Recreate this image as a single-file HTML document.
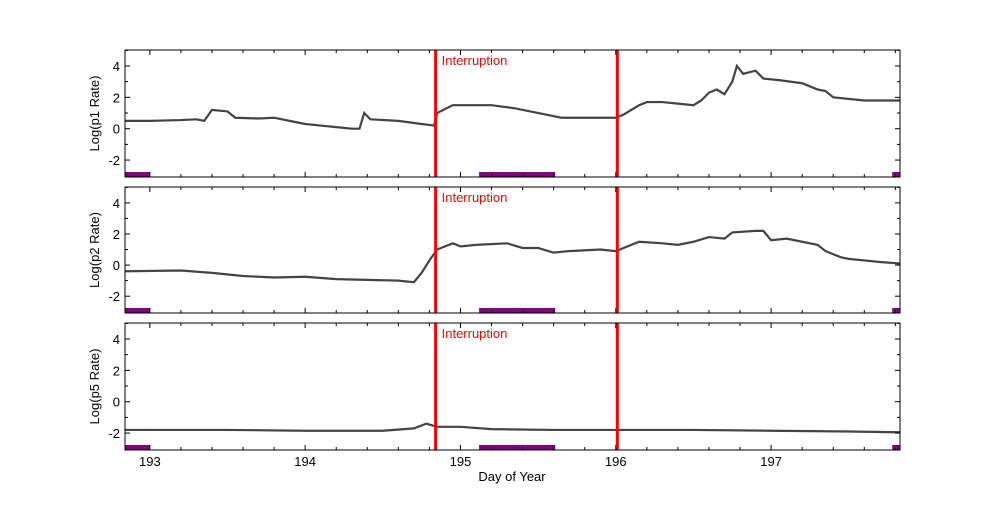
<!DOCTYPE html>
<html><head><meta charset="utf-8"><style>
body{margin:0;background:#fff;font-family:"Liberation Sans",sans-serif}
svg text{font-family:"Liberation Sans",sans-serif}
</style></head><body>
<svg id="chart" width="1000" height="500"></svg>
<script>
const xTicks=[193,194,195,196,197];
const yTicks=[-2,0,2,4];
const interruptions=[194.84,196.01];
const gaps=[[192.84,193.0],[195.12,195.61],[197.78,197.83]];
const panelLabels=["Log(p1 Rate)","Log(p2 Rate)","Log(p5 Rate)"];
const p1Days=[192.84,193.0,193.2,193.3,193.35,193.4,193.5,193.55,193.7,193.8,193.9,194.0,194.1,194.2,194.3,194.35,194.38,194.42,194.6,194.75,194.83,194.85,194.95,195.1,195.2,195.35,195.45,195.55,195.65,195.8,195.9,196.0,196.05,196.15,196.2,196.3,196.4,196.5,196.55,196.6,196.65,196.7,196.75,196.78,196.82,196.9,196.95,197.05,197.2,197.3,197.35,197.4,197.6,197.83];
const p1Vals=[0.5,0.5,0.55,0.6,0.5,1.2,1.1,0.7,0.65,0.7,0.5,0.3,0.2,0.1,0.0,0.0,1.0,0.6,0.5,0.3,0.2,1.0,1.5,1.5,1.5,1.3,1.1,0.9,0.7,0.7,0.7,0.7,0.9,1.5,1.7,1.7,1.6,1.5,1.8,2.3,2.5,2.2,3.0,4.0,3.5,3.7,3.2,3.1,2.9,2.5,2.4,2.0,1.8,1.8];
const p2Days=[192.84,193.2,193.4,193.6,193.8,194.0,194.2,194.4,194.6,194.7,194.75,194.8,194.85,194.95,195.0,195.1,195.3,195.4,195.5,195.6,195.7,195.9,196.0,196.1,196.15,196.3,196.4,196.5,196.6,196.7,196.75,196.9,196.95,197.0,197.1,197.2,197.3,197.35,197.45,197.5,197.6,197.7,197.83];
const p2Vals=[-0.4,-0.35,-0.5,-0.7,-0.8,-0.75,-0.9,-0.95,-1.0,-1.1,-0.5,0.3,1.0,1.4,1.2,1.3,1.4,1.1,1.1,0.8,0.9,1.0,0.9,1.3,1.5,1.4,1.3,1.5,1.8,1.7,2.1,2.2,2.2,1.6,1.7,1.5,1.3,0.9,0.5,0.4,0.3,0.2,0.1];
const p5Days=[192.84,193.5,194.0,194.5,194.7,194.78,194.85,195.0,195.2,195.6,196.0,196.5,197.0,197.5,197.83];
const p5Vals=[-1.8,-1.8,-1.85,-1.85,-1.7,-1.4,-1.6,-1.6,-1.75,-1.8,-1.8,-1.8,-1.85,-1.9,-1.95];
const series=[[p1Days,p1Vals],[p2Days,p2Vals],[p5Days,p5Vals]];

const NS="http://www.w3.org/2000/svg";
const svg=document.getElementById('chart');
const X0=125,X1=900,D0=192.84,D1=197.83;
const panels=[[50,177],[187,313],[323,450]];
const Y0=-3.08,Y1=5.02;
const xs=d=>X0+(d-D0)/(D1-D0)*(X1-X0);
function mk(t,a,p){const e=document.createElementNS(NS,t);for(const k in a)e.setAttribute(k,a[k]);(p||svg).appendChild(e);return e;}
panels.forEach((pb,i)=>{
  const [top,bot]=pb;
  const ys=v=>bot-(v-Y0)/(Y1-Y0)*(bot-top);
  const g=mk('g',{});
  
  
  gaps.forEach(gp=>{const r=mk('rect',{x:xs(gp[0]),y:bot-5,width:xs(gp[1])-xs(gp[0]),height:5,fill:'#800080'},g);
    });
  const [ds,vs]=series[i];
  let pts=ds.map((d,k)=>xs(d)+','+ys(vs[k])).join(' ');
  const pl=mk('polyline',{points:pts,fill:'none',stroke:'#444',"stroke-width":2.2},g);
  
  
  interruptions.forEach(d=>{const l=mk('line',{x1:xs(d),x2:xs(d),y1:top,y2:bot,stroke:'#f00','stroke-width':3},g);
    });
  const it=mk('text',{x:xs(interruptions[0])+6,y:top+15,fill:'#f00','font-size':13},g);it.textContent='Interruption';
  
  const fr=mk('rect',{x:X0,y:top,width:X1-X0,height:bot-top,fill:'none',stroke:'#000'},g);
  
  xTicks.forEach(t=>{mk('line',{x1:xs(t),x2:xs(t),y1:bot,y2:bot-5,stroke:'#000'},g);mk('line',{x1:xs(t),x2:xs(t),y1:top,y2:top+5,stroke:'#000'},g);
    for(let m=1;m<5;m++){const xm=xs(t+m*0.2);if(xm<X1){mk('line',{x1:xm,x2:xm,y1:bot,y2:bot-3,stroke:'#000'},g);mk('line',{x1:xm,x2:xm,y1:top,y2:top+3,stroke:'#000'},g);}}
    if(i==2){const tl=mk('text',{x:xs(t),y:bot+16,'font-size':13,'text-anchor':'middle'},g);tl.textContent=t;
      }});
  {const xm=xs(192.8+0.2);}
  yTicks.forEach(t=>{mk('line',{x1:X0,x2:X0+5,y1:ys(t),y2:ys(t),stroke:'#000'},g);mk('line',{x1:X1,x2:X1-5,y1:ys(t),y2:ys(t),stroke:'#000'},g);
    mk('line',{x1:X0,x2:X0+3,y1:ys(t+1),y2:ys(t+1),stroke:'#000'},g);mk('line',{x1:X1,x2:X1-3,y1:ys(t+1),y2:ys(t+1),stroke:'#000'},g);
    const tl=mk('text',{x:X0-5,y:ys(t)+5,'font-size':13,'text-anchor':'end'},g);tl.textContent=t;
    });
  const yl=mk('text',{x:99,y:(top+bot)/2,'font-size':13,'text-anchor':'middle',transform:`rotate(-90 99 ${(top+bot)/2})`},g);
  yl.textContent=panelLabels[i];
  
});
const xt=mk('text',{x:512,y:481,'font-size':13,'text-anchor':'middle'});xt.textContent='Day of Year';


</script>
</body></html>
